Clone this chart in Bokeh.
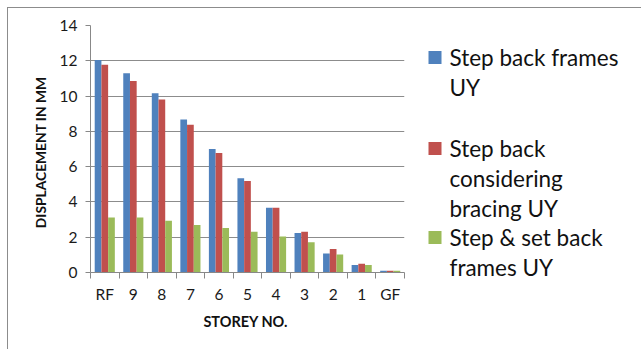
from bokeh.plotting import figure
from bokeh.layouts import row, column
from bokeh.models import FixedTicker, Label, Range1d
from bokeh.embed import file_html
from bokeh.resources import INLINE

storeys = ["RF", "9", "8", "7", "6", "5", "4", "3", "2", "1", "GF"]
step_back = [12.05, 11.3, 10.16, 8.67, 7.0, 5.34, 3.67, 2.24, 1.08, 0.42, 0.1]
step_back_bracing = [11.77, 10.86, 9.8, 8.37, 6.78, 5.19, 3.67, 2.31, 1.33, 0.49, 0.1]
step_set_back = [3.12, 3.12, 2.93, 2.69, 2.52, 2.31, 2.04, 1.72, 1.02, 0.42, 0.1]
series_names = [["Step back frames", "UY"],
                ["Step back", "considering", "bracing UY"],
                ["Step & set back", "frames UY"]]
colors = ["#4F81BD", "#C0504D", "#9BBB59"]
y_ticks = [0, 2, 4, 6, 8, 10, 12, 14]

FONT = "Lato"
OFF = 7
TOTAL_W, TOTAL_H = 641, 349
FL, FR, FT, FB = 90, 404, 25, 271.7  # plot-area edges in window pixels
n = len(storeys)
x0 = OFF + 1  # inside the border
H = TOTAL_H - x0
W1 = FR - x0 + 2

p = figure(width=W1, height=H, output_backend="svg", toolbar_location=None,
           x_range=Range1d(-0.5, n - 0.5), y_range=Range1d(0, 14),
           min_border_left=FL - x0, min_border_right=2,
           min_border_top=FT - x0, min_border_bottom=round(TOTAL_H - FB))
p.outline_line_color = None
p.background_fill_color = "white"
p.border_fill_color = "white"

idx = list(range(n))
bw = 0.235
for k, (vals, col) in enumerate(zip([step_back, step_back_bracing, step_set_back], colors)):
    xs = [i + (k - 1) * bw for i in idx]
    p.vbar(x=xs, top=vals, width=bw, fill_color=col, line_color=None)

# y axis
p.yaxis.ticker = FixedTicker(ticks=y_ticks)
p.yaxis.axis_line_color = "#888888"
p.yaxis.major_tick_line_color = "#888888"
p.yaxis.major_tick_out = 5
p.yaxis.major_tick_in = 0
p.yaxis.minor_tick_line_color = None
p.yaxis.major_label_text_font = FONT
p.yaxis.major_label_text_font_size = "15.5px"
p.yaxis.major_label_text_color = "#1a1a1a"
p.yaxis.major_label_standoff = 8
p.yaxis.axis_label = "DISPLACEMENT  IN  MM"
p.yaxis.axis_label_text_font = FONT
p.yaxis.axis_label_text_font_style = "bold"
p.yaxis.axis_label_text_font_size = "13.8px"
p.yaxis.axis_label_text_color = "#111111"
p.yaxis.axis_label_standoff = 8

# x axis: labels at centres, ticks at category boundaries
p.xaxis.ticker = FixedTicker(ticks=idx, minor_ticks=[i - 0.5 for i in range(n + 1)])
p.xaxis.major_label_overrides = {i: s for i, s in enumerate(storeys)}
p.xaxis.axis_line_color = "#888888"
p.xaxis.major_tick_line_color = None
p.xaxis.minor_tick_line_color = "#888888"
p.xaxis.minor_tick_out = 6
p.xaxis.minor_tick_in = 0
p.xaxis.major_label_text_font = FONT
p.xaxis.major_label_text_font_size = "15.5px"
p.xaxis.major_label_text_color = "#1a1a1a"
p.xaxis.major_label_standoff = 6
p.xaxis.axis_label = "STOREY  NO."
p.xaxis.axis_label_text_font = FONT
p.xaxis.axis_label_text_font_style = "bold"
p.xaxis.axis_label_text_font_size = "14.5px"
p.xaxis.axis_label_text_color = "#111111"
p.xaxis.axis_label_standoff = 7

p.xgrid.grid_line_color = None
p.ygrid.ticker = FixedTicker(ticks=y_ticks)
p.ygrid.grid_line_color = "#8c8c8c"
p.ygrid.grid_line_width = 1.2

# legend panel: its own figure, coordinates in window pixels (y downward)
W2 = TOTAL_W - x0 - W1
lx0 = x0 + W1
leg = figure(width=W2, height=H, output_backend="svg", toolbar_location=None,
             x_axis_type=None, y_axis_type=None,
             x_range=Range1d(lx0, TOTAL_W), y_range=Range1d(-TOTAL_H, -x0),
             min_border_left=0, min_border_right=0, min_border_top=0, min_border_bottom=0)
leg.grid.visible = False
leg.outline_line_color = None
leg.border_fill_color = "white"

entry_tops = [57, 148, 237]
line_h = 30
leg.rect(x=[434.5] * len(colors), y=[-t for t in entry_tops], width=13, height=13,
         width_units="screen", height_units="screen", fill_color=colors, line_color=None)
for names, ty in zip(series_names, entry_tops):
    for j, t in enumerate(names):
        leg.add_layout(Label(x=449, y=-(ty + j * line_h), text=t, text_font=FONT,
                             text_font_size="22.5px", text_color="#111111",
                             text_baseline="middle", text_align="left"))

layout = row(p, column(leg), spacing=0)
layout.margin = (OFF, 0, 0, OFF)
layout.styles = {"border-left": "1px solid #8c8c8c", "border-top": "1px solid #8c8c8c"}

open("out.html", "w").write(file_html(layout, INLINE))
